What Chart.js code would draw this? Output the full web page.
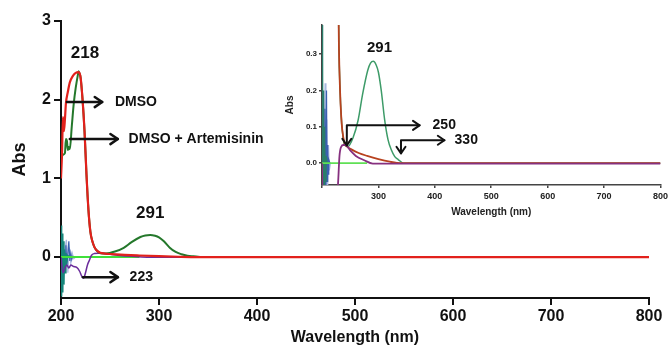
<!DOCTYPE html>
<html>
<head>
<meta charset="utf-8">
<script src="https://cdn.jsdelivr.net/npm/chart.js@4.4.1/dist/chart.umd.min.js"></script>
<style>
  body { margin: 0; background: #fff; }
  #wrap { position: relative; width: 671px; height: 348px; }
  #main { position: absolute; left: 0; top: 0; }
  #inset { position: absolute; left: 280px; top: 0; }
</style>
</head>
<body>
<div id="wrap">
  <canvas id="main" width="671" height="348"></canvas>
  <canvas id="inset" width="391" height="225"></canvas>
</div>
<script>
// spectra (wavelength nm / absorbance)
const wlRed = [200, 201, 202, 203, 204, 205, 207, 209, 212, 215, 218, 220, 222, 224, 226, 228, 230, 232, 234, 236, 240, 245, 252, 265, 280, 300, 320, 340, 800];
const absRed = [1.0, 1.3, 1.78, 1.6, 1.75, 1.95, 2.1, 2.22, 2.3, 2.34, 2.35, 2.28, 2.0, 1.6, 1.05, 0.6, 0.32, 0.2, 0.13, 0.09, 0.055, 0.045, 0.038, 0.028, 0.02, 0.011, 0.004, 0, 0];

const wlGreen = [200, 202, 204, 205, 206, 207, 208, 209, 211, 213, 215, 217, 218, 219, 220, 222, 224, 226, 228, 230, 232, 234, 236, 240, 246, 255, 264, 272, 281, 286, 291, 296, 300, 305, 311, 317, 323, 329, 335, 345, 800];
const absGreen = [1.25, 1.3, 1.32, 1.5, 1.48, 1.36, 1.4, 1.37, 1.66, 1.95, 2.15, 2.3, 2.36, 2.33, 2.28, 2.0, 1.6, 1.05, 0.6, 0.32, 0.2, 0.13, 0.09, 0.05, 0.046, 0.07, 0.118, 0.19, 0.255, 0.275, 0.28, 0.27, 0.25, 0.2, 0.12, 0.065, 0.036, 0.018, 0.01, 0, 0];

const wlPurple = [200, 202, 204, 206, 208, 210, 213, 216, 219, 221, 223, 225, 227, 229, 231, 234, 238, 242, 250, 260, 275, 290, 800];
const absPurple = [0, -0.2, -0.14, -0.1, -0.14, -0.1, -0.12, -0.13, -0.18, -0.24, -0.27, -0.2, -0.1, -0.04, 0.02, 0.045, 0.05, 0.05, 0.035, 0.02, 0.008, -0.001, -0.001];

const wlLime = [200, 280];
const absLime = [0, 0];

const wlTeal = [200, 200.6, 201.2, 201.8, 202.4, 203, 203.6, 204.2, 205, 206, 207, 209, 215];
const absTeal = [0.4, -0.5, 0.3, -0.45, 0.2, -0.35, 0.1, -0.2, 0.05, -0.05, 0.02, 0, 0];

const wlBlue = [203, 204, 205, 206, 207, 208, 209, 210, 211, 212, 214];
const absBlue = [0, -0.2, 0.15, -0.1, 0.05, 0.2, -0.05, 0.05, -0.03, 0.01, 0];

const wlPale = [204, 205.5, 207, 208.5, 210, 211.5, 213, 215];
const absPale = [0.1, 0.22, -0.2, 0.12, -0.08, 0.05, -0.02, 0];

const xTicks = [200, 300, 400, 500, 600, 700, 800];
const yTicksMain = [0, 1, 2, 3];
const yTicksInset = [0, 0.1, 0.2, 0.3];

// annotations, in data units
const mainLabels = [
  { text: '218', x: 224.5, y: 2.59, size: 17, align: 'center' },
  { text: 'DMSO', x: 255, y: 1.97, size: 14, align: 'left' },
  { text: 'DMSO + Artemisinin', x: 269, y: 1.5, size: 14, align: 'left' },
  { text: '291', x: 291, y: 0.56, size: 17, align: 'center' },
  { text: '223', x: 270, y: -0.255, size: 14, align: 'left' }
];
const mainArrows = [
  { pts: [[206, 1.97], [242, 1.97]] },
  { pts: [[209, 1.5], [258, 1.5]] },
  { pts: [[222.4, -0.255], [258, -0.255]] }
];
const insetLabels = [
  { text: '291', x: 302, y: 0.318, size: 15, align: 'center' },
  { text: '250', x: 396, y: 0.104, size: 14, align: 'left' },
  { text: '330', x: 435, y: 0.063, size: 14, align: 'left' }
];
const insetArrows = [
  { pts: [[244, 0.049], [244, 0.104], [373, 0.104]], both: true },
  { pts: [[340, 0.027], [340, 0.063], [417, 0.063]], both: true }
];

const FONT = "'Liberation Sans', Arial, sans-serif";
const pairs = (xs, ys) => xs.map((x, i) => ({ x: x, y: ys[i] }));

function notesPlugin(arrows, labels, lw, head) {
  return {
    id: 'notes',
    afterDatasetsDraw(chart) {
      const { ctx } = chart;
      const sx = chart.scales.x, sy = chart.scales.y;
      const px = ([u, v]) => [sx.getPixelForValue(u), sy.getPixelForValue(v)];
      ctx.save();
      ctx.strokeStyle = '#111';
      ctx.fillStyle = '#111';
      ctx.lineWidth = lw;
      ctx.lineCap = 'round';
      ctx.lineJoin = 'round';
      const drawHead = (a, b) => {
        const ang = Math.atan2(b[1] - a[1], b[0] - a[0]);
        ctx.beginPath();
        ctx.moveTo(b[0] - head * Math.cos(ang - 0.6), b[1] - head * Math.sin(ang - 0.6));
        ctx.lineTo(b[0], b[1]);
        ctx.lineTo(b[0] - head * Math.cos(ang + 0.6), b[1] - head * Math.sin(ang + 0.6));
        ctx.stroke();
      };
      arrows.forEach(a => {
        const p = a.pts.map(px);
        ctx.beginPath();
        p.forEach(([x, y], i) => i ? ctx.lineTo(x, y) : ctx.moveTo(x, y));
        ctx.stroke();
        drawHead(p[p.length - 2], p[p.length - 1]);
        if (a.both) drawHead(p[1], p[0]);
      });
      ctx.textBaseline = 'middle';
      labels.forEach(l => {
        const [x, y] = px([l.x, l.y]);
        ctx.font = 'bold ' + l.size + 'px ' + FONT;
        ctx.textAlign = l.align;
        ctx.fillText(l.text, x, y);
      });
      ctx.restore();
    }
  };
}

function line(xs, ys, color, width, smooth, order) {
  return {
    data: pairs(xs, ys),
    borderColor: color,
    borderWidth: width,
    pointRadius: 0,
    fill: false,
    order: order,
    cubicInterpolationMode: smooth ? 'monotone' : 'default',
    tension: 0
  };
}

// main chart
new Chart(document.getElementById('main'), {
  type: 'line',
  data: {
    datasets: [
      line(wlRed, absRed, '#e2211c', 2.2, true, 0),
      line(wlGreen, absGreen, '#24782b', 2, true, 1),
      line(wlPurple, absPurple, '#6b2c9b', 1.5, true, 2),
      line(wlLime, absLime, '#3fe03a', 2, false, 3),
      line(wlTeal, absTeal, '#15857a', 1.5, false, 4),
      line(wlBlue, absBlue, '#3b5fb0', 1.2, false, 5),
      line(wlPale, absPale, '#a9b9e0', 1.2, false, 6)
    ]
  },
  options: {
    responsive: false,
    animation: false,
    devicePixelRatio: 1,
    layout: { padding: { top: 21, right: 22, left: 0, bottom: 0 }, autoPadding: false },
    plugins: { legend: { display: false }, tooltip: { enabled: false } },
    scales: {
      x: {
        type: 'linear', min: 200, max: 800,
        afterBuildTicks: s => { s.ticks = xTicks.map(v => ({ value: v })); },
        afterFit: s => { s.height = 50; },
        grid: { display: true, drawOnChartArea: false, drawTicks: true, tickLength: 7, color: '#111', lineWidth: 2 },
        border: { display: true, color: '#111', width: 2 },
        ticks: { color: '#111', font: { family: FONT, size: 16, weight: 'bold' }, padding: 2, maxRotation: 0 },
        title: { display: true, text: 'Wavelength (nm)', color: '#111', font: { family: FONT, size: 16, weight: 'bold', lineHeight: 1.2 }, padding: { top: 0, bottom: 1 } }
      },
      y: {
        type: 'linear', min: -0.52, max: 3,
        afterBuildTicks: s => { s.ticks = yTicksMain.map(v => ({ value: v })); },
        afterFit: s => { s.width = 61; },
        grid: { display: true, drawOnChartArea: false, drawTicks: true, tickLength: 7, color: '#111', lineWidth: 2 },
        border: { display: true, color: '#111', width: 2 },
        ticks: { color: '#111', font: { family: FONT, size: 16, weight: 'bold' }, padding: 3 },
        title: { display: true, text: 'Abs', color: '#111', font: { family: FONT, size: 18, weight: 'bold', lineHeight: 1.2 }, padding: { top: 9, bottom: 0 } }
      }
    }
  },
  plugins: [notesPlugin(mainArrows, mainLabels, 2.5, 9)]
});

// inset chart
new Chart(document.getElementById('inset'), {
  type: 'line',
  data: {
    datasets: [
      line(wlPurple, absPurple, '#86307f', 1.8, true, 0),
      line(wlRed, absRed, '#b8421f', 1.8, true, 1),
      line(wlGreen, absGreen, '#3d9b68', 1.5, true, 2),
      line(wlLime, absLime, '#5fe055', 1.8, false, 3),
      line(wlTeal, absTeal, '#2a7d6a', 1.5, false, 4),
      line(wlBlue, absBlue, '#3b5fb0', 1.2, false, 5),
      line(wlPale, absPale, '#a9b9e0', 1.2, false, 6)
    ]
  },
  options: {
    responsive: false,
    animation: false,
    devicePixelRatio: 1,
    layout: { padding: { top: 25, right: 10, left: 0, bottom: 0 }, autoPadding: false },
    plugins: { legend: { display: false }, tooltip: { enabled: false } },
    scales: {
      x: {
        type: 'linear', min: 200, max: 800,
        afterBuildTicks: s => { s.ticks = xTicks.map(v => ({ value: v })); },
        afterFit: s => { s.height = 40; },
        grid: { display: true, drawOnChartArea: false, drawTicks: true, tickLength: 3, color: '#444', lineWidth: 1.5 },
        border: { display: true, color: '#444', width: 1.5 },
        ticks: { color: '#222', font: { family: FONT, size: 9, weight: 'bold' }, padding: 3, maxRotation: 0,
                 callback: v => v === 200 ? '' : String(v) },
        title: { display: true, text: 'Wavelength (nm)', color: '#222', font: { family: FONT, size: 10, weight: 'bold', lineHeight: 1.2 }, padding: { top: 0, bottom: 7 } }
      },
      y: {
        type: 'linear', min: -0.06, max: 0.38,
        afterBuildTicks: s => { s.ticks = yTicksInset.map(v => ({ value: v })); },
        afterFit: s => { s.width = 42; },
        grid: { display: true, drawOnChartArea: false, drawTicks: true, tickLength: 3, color: '#444', lineWidth: 1.5 },
        border: { display: true, color: '#444', width: 1.5 },
        ticks: { color: '#222', font: { family: FONT, size: 8, weight: 'bold' }, padding: 2, callback: v => v.toFixed(1) },
        title: { display: true, text: 'Abs', color: '#222', font: { family: FONT, size: 10, weight: 'bold', lineHeight: 1.2 }, padding: { top: 4, bottom: 0 } }
      }
    }
  },
  plugins: [notesPlugin(insetArrows, insetLabels, 2, 8)]
});
</script>
</body>
</html>
